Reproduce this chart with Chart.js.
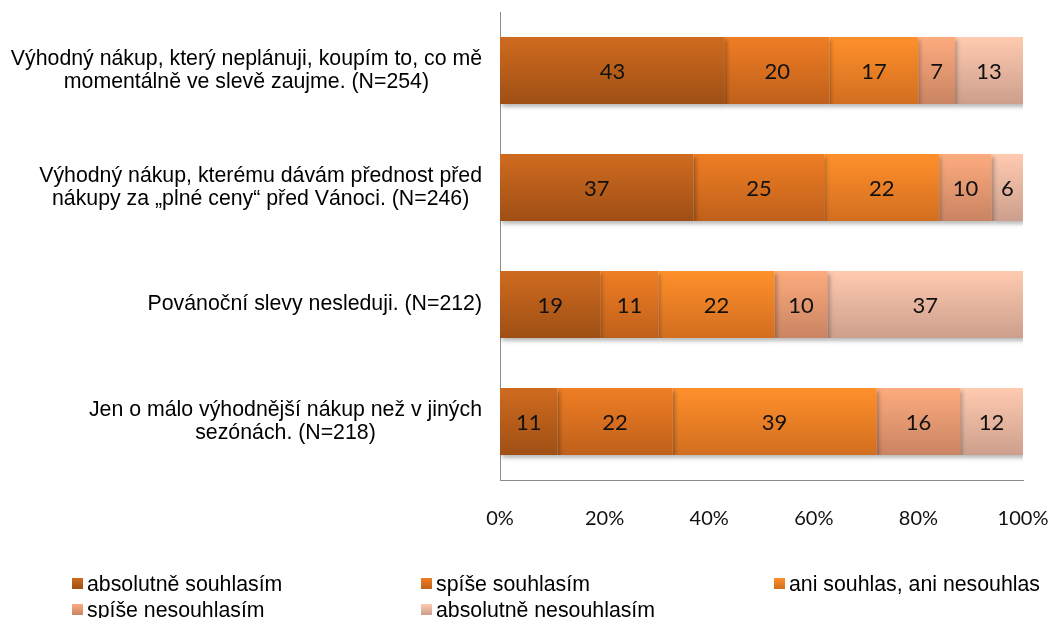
<!DOCTYPE html>
<html>
<head>
<meta charset="utf-8">
<script src="https://cdn.jsdelivr.net/npm/chart.js@4"></script>
<style>
  html, body { margin: 0; padding: 0; background: #fff; }
  #wrap { width: 1055px; height: 618px; }
</style>
</head>
<body>
<div id="wrap"><canvas id="chart"></canvas></div>
<script>
const categories = [
    ['Výhodný nákup, který neplánuji, koupím to, co mě', 'momentálně ve slevě zaujme. (N=254)'],
    ['Výhodný nákup, kterému dávám přednost před', 'nákupy za „plné ceny“ před Vánoci. (N=246)'],
    ['Povánoční slevy nesleduji. (N=212)'],
    ['Jen o málo výhodnější nákup než v jiných', 'sezónách. (N=218)'],
];
const seriesNames = ['absolutně souhlasím', 'spíše souhlasím', 'ani souhlas, ani nesouhlas', 'spíše nesouhlasím', 'absolutně nesouhlasím'];
const absSouhlasim = [43, 37, 19, 11];
const spiseSouhlasim = [20, 25, 11, 22];
const aniAni = [17, 22, 22, 39];
const spiseNesouhlasim = [7, 10, 10, 16];
const absNesouhlasim = [13, 6, 37, 12];
const xTicks = [0, 20, 40, 60, 80, 100];

const series = [absSouhlasim, spiseSouhlasim, aniAni, spiseNesouhlasim, absNesouhlasim];
// top / bottom colours of the Excel-like gradient
const colours = [
    ['#cf6b1f', '#9f4f15'],
    ['#ef7e24', '#bf601b'],
    ['#ff902b', '#d26e20'],
    ['#fdab7e', '#c98462'],
    ['#ffcab0', '#cc9f8c'],
];
const BAR_PCT = 0.573;

const rowTotals = categories.map((_, i) => series.reduce((s, arr) => s + arr[i], 0));

function gradientFill(ctx, k) {
    const chart = ctx.chart;
    const y = chart.scales && chart.scales.y;
    if (!chart.chartArea || !y || ctx.dataIndex === undefined) return colours[k][0];
    const yc = y.getPixelForValue(ctx.dataIndex);
    const band = Math.abs(y.getPixelForValue(1) - y.getPixelForValue(0)) || 117;
    const half = band * BAR_PCT / 2;
    const g = chart.ctx.createLinearGradient(0, yc - half, 0, yc + half);
    g.addColorStop(0, colours[k][0]);
    g.addColorStop(1, colours[k][1]);
    return g;
}

const datasets = series.map((arr, k) => ({
    label: seriesNames[k],
    data: arr.map((v, i) => v / rowTotals[i] * 100),
    raw: arr,
    backgroundColor: (ctx) => gradientFill(ctx, k),
    borderWidth: 0,
    categoryPercentage: 1,
    barPercentage: BAR_PCT,
}));

const shadowPlugin = {
    id: 'shadow',
    beforeDatasetsDraw(chart) {
        const c = chart.ctx;
        c.save();
        c.shadowColor = 'rgba(0,0,0,0.28)';
        c.shadowBlur = 4;
        c.shadowOffsetX = 2;
        c.shadowOffsetY = 3;
    },
    afterDatasetsDraw(chart) {
        chart.ctx.restore();
    },
};

const valueLabels = {
    id: 'valueLabels',
    afterDatasetsDraw(chart) {
        const c = chart.ctx;
        c.save();
        c.font = '22px Lato';
        c.fillStyle = '#111';
        c.textAlign = 'center';
        c.textBaseline = 'middle';
        chart.data.datasets.forEach((ds, k) => {
            chart.getDatasetMeta(k).data.forEach((bar, i) => {
                const left = Math.min(bar.x, bar.base);
                const right = Math.max(bar.x, bar.base);
                c.fillText(String(ds.raw[i]), (left + right) / 2, bar.y + 1);
            });
        });
        c.restore();
    },
};

const categoryLabels = {
    id: 'categoryLabels',
    afterDraw(chart) {
        const c = chart.ctx;
        const y = chart.scales.y;
        const lineH = 23;
        c.save();
        c.font = '21.3px "Liberation Sans", Arial, sans-serif';
        c.fillStyle = '#000';
        c.textAlign = 'center';
        c.textBaseline = 'middle';
        categories.forEach((lines, i) => {
            const w = Math.max(...lines.map(l => c.measureText(l).width));
            const cx = 482 - w / 2;
            const yc = y.getPixelForValue(i);
            lines.forEach((l, j) => {
                c.fillText(l, cx, yc + (j - (lines.length - 1) / 2) * lineH);
            });
        });
        c.restore();
    },
};

const legendPlugin = {
    id: 'customLegend',
    afterDraw(chart) {
        const c = chart.ctx;
        const cols = [72, 421, 774];
        const rows = [591, 617];
        c.save();
        c.font = '21.3px "Liberation Sans", Arial, sans-serif';
        c.textBaseline = 'alphabetic';
        c.textAlign = 'left';
        seriesNames.forEach((name, k) => {
            const x = cols[k % 3];
            const base = rows[Math.floor(k / 3)];
            const g = c.createLinearGradient(0, base - 13, 0, base - 2);
            g.addColorStop(0, colours[k][0]);
            g.addColorStop(1, colours[k][1]);
            c.fillStyle = g;
            c.fillRect(x, base - 13, 11, 11);
            c.fillStyle = '#000';
            c.fillText(name, x + 15, base);
        });
        c.restore();
    },
};

new Chart(document.getElementById('chart'), {
    type: 'bar',
    data: {
        labels: categories,
        datasets: datasets,
    },
    options: {
        indexAxis: 'y',
        responsive: true,
        maintainAspectRatio: false,
        animation: false,
        layout: { padding: { left: 499, right: 32, top: 12, bottom: 88 } },
        plugins: {
            legend: { display: false },
            tooltip: { enabled: false },
        },
        scales: {
            x: {
                stacked: true,
                min: 0,
                max: 100,
                afterBuildTicks: (axis) => { axis.ticks = xTicks.map(v => ({ value: v })); },
                afterFit: (scale) => {
                    scale.height = 50;
                    scale.paddingLeft = 0;
                    scale.paddingRight = 0;
                },
                ticks: {
                    callback: (v) => v + '%',
                    font: { family: 'Lato', size: 20 },
                    color: '#111',
                    padding: 27,
                    maxRotation: 0,
                },
                grid: { display: false, drawTicks: false },
                border: { display: true, color: '#8c8c8c', width: 1 },
            },
            y: {
                stacked: true,
                afterFit: (scale) => {
                    scale.width = 1;
                    scale.paddingTop = 0;
                    scale.paddingBottom = 0;
                },
                ticks: { display: false },
                grid: { display: false, drawTicks: false },
                border: { display: true, color: '#8c8c8c', width: 1 },
            },
        },
    },
    plugins: [shadowPlugin, valueLabels, categoryLabels, legendPlugin],
});
</script>
</body>
</html>
